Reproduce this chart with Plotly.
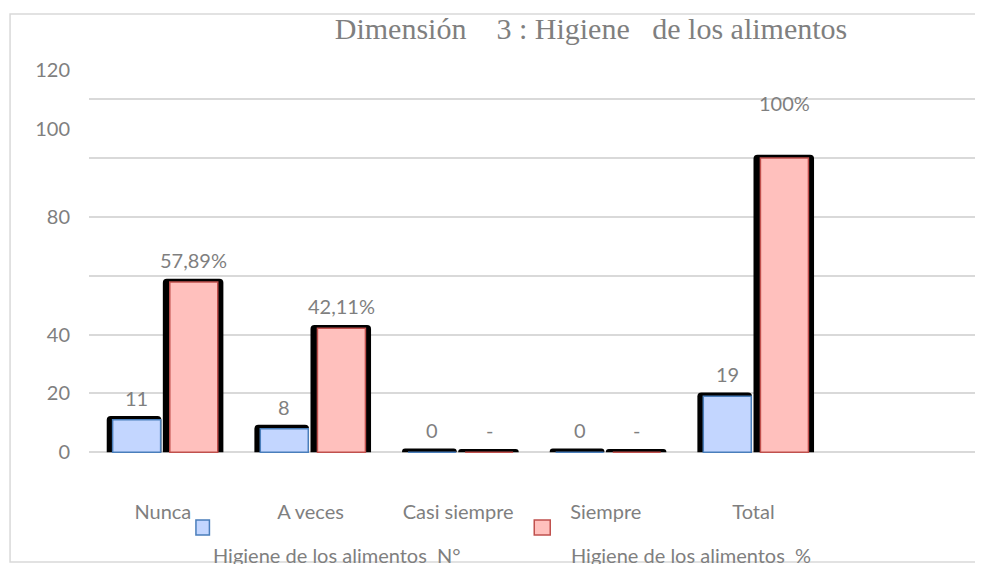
import plotly.graph_objects as go

# data
categorias = ['Nunca', 'A veces', 'Casi siempre', 'Siempre', 'Total']
n_valores = [11, 8, 0, 0, 19]
pct_valores = [57.89, 42.11, 0, 0, 100]
n_etiquetas = ['11', '8', '0', '0', '19']
pct_etiquetas = ['57,89%', '42,11%', '-', '-', '100%']
ytick_textos = ['0', '20', '40', '80', '100', '120']
ytick_pos = [0, 20, 40, 80, 110, 130]  # labels sit off the grid in the original

W, H = 983, 564
PAGE = 8  # default body margin of the html page
ML, MR, MT, MB = 81, 15.5, 50, 108
PW = W - ML - MR
PH = H - MT - MB
GRIS = '#7f7f7f'
FUENTE = 'Lato'


def px_x(p):
    # page pixel -> paper fraction
    return (p - PAGE - ML) / PW


def px_y(p):
    return (H - MB - (p - PAGE)) / PH


xs = list(range(len(categorias)))

# bar geometry in category units (offset from category centre)
b_sh_off, b_sh_w = -0.38, 0.37
b_off, b_w = -0.34, 0.325
r_sh_off, r_sh_w = 0.0, 0.41
r_off, r_w = 0.047, 0.325

fig = go.Figure()
fig.add_trace(go.Bar(x=xs, y=[v + 1.3 for v in n_valores], offset=b_sh_off, width=b_sh_w,
                     marker=dict(color='black', line=dict(width=0), cornerradius=4),
                     showlegend=False, hoverinfo='skip'))
fig.add_trace(go.Bar(x=xs, y=n_valores, offset=b_off, width=b_w,
                     name='Higiene de los alimentos N°',
                     marker=dict(color='#c3d6ff', line=dict(color='#4a7ebb', width=1.5))))
fig.add_trace(go.Bar(x=xs, y=[v + 1.1 for v in pct_valores], offset=r_sh_off, width=r_sh_w,
                     marker=dict(color='black', line=dict(width=0), cornerradius=4),
                     showlegend=False, hoverinfo='skip'))
fig.add_trace(go.Bar(x=xs, y=pct_valores, offset=r_off, width=r_w,
                     name='Higiene de los alimentos %',
                     marker=dict(color='#ffc0bd', line=dict(color='#c0504d', width=1.5))))
# dummy trace so yaxis2 is drawn
fig.add_trace(go.Scatter(x=[None], y=[None], yaxis='y2', showlegend=False, hoverinfo='skip'))

anots = []
for i in xs:
    anots.append(dict(x=i + b_off + b_w / 2, y=n_valores[i], xref='x', yref='y',
                      text=n_etiquetas[i], showarrow=False, xanchor='center',
                      yanchor='middle', yshift=22,
                      font=dict(family=FUENTE, size=20, color=GRIS)))
    shift = 55 if pct_valores[i] >= 100 else 22
    anots.append(dict(x=i + r_off + r_w / 2, y=pct_valores[i], xref='x', yref='y',
                      text=pct_etiquetas[i], showarrow=False, xanchor='center',
                      yanchor='middle', yshift=shift,
                      font=dict(family=FUENTE, size=20, color=GRIS)))

# legend drawn the way the original lays it out
anots.append(dict(x=px_x(337), y=px_y(555), xref='paper', yref='paper',
                  text='Higiene de los alimentos\u00a0 N°', showarrow=False,
                  xanchor='center', yanchor='middle',
                  font=dict(family=FUENTE, size=20, color=GRIS)))
anots.append(dict(x=px_x(691), y=px_y(555), xref='paper', yref='paper',
                  text='Higiene de los alimentos\u00a0 %', showarrow=False,
                  xanchor='center', yanchor='middle',
                  font=dict(family=FUENTE, size=20, color=GRIS)))

shapes = [
    dict(type='rect', xref='paper', yref='paper', x0=px_x(10), x1=px_x(1000),
         y0=px_y(562), y1=px_y(14), line=dict(color='#d9d9d9', width=1.5), layer='above'),
    dict(type='rect', xref='paper', yref='paper', x0=px_x(196), x1=px_x(209.5),
         y0=px_y(535), y1=px_y(520), fillcolor='#c3d6ff', line=dict(color='#4a7ebb', width=1.5)),
    dict(type='rect', xref='paper', yref='paper', x0=px_x(534.5), x1=px_x(550.5),
         y0=px_y(535), y1=px_y(520), fillcolor='#ffc0bd', line=dict(color='#c0504d', width=1.5)),
]

fig.update_layout(
    width=W, height=H,
    margin=dict(l=ML, r=MR, t=MT, b=MB, autoexpand=False),
    paper_bgcolor='white', plot_bgcolor='white',
    barmode='overlay', showlegend=False,
    title=dict(text='Dimensión\u00a0\u00a0\u00a0 3 : Higiene\u00a0\u00a0 de los alimentos',
               x=(591 - PAGE) / W, xref='container', xanchor='center',
               y=1 - (28 - PAGE) / H, yref='container', yanchor='middle',
               font=dict(family='Liberation Serif', size=30, color=GRIS)),
    xaxis=dict(range=[-0.5, 5.5], tickvals=xs, ticktext=categorias, showgrid=False,
               zeroline=False, showline=False, ticks='outside', ticklen=30,
               tickcolor='rgba(0,0,0,0)', automargin=False,
               tickfont=dict(family=FUENTE, size=20, color=GRIS)),
    yaxis=dict(range=[-4, 134], tick0=0, dtick=20, showgrid=True, gridcolor='#d9d9d9',
               gridwidth=1.5, zeroline=False, showticklabels=False, showline=False,
               automargin=False),
    yaxis2=dict(range=[-4, 134], overlaying='y', side='left', tickvals=ytick_pos,
                ticktext=ytick_textos, showgrid=False, zeroline=False, showline=False,
                ticks='outside', ticklen=14, tickcolor='rgba(0,0,0,0)', automargin=False,
                tickfont=dict(family=FUENTE, size=20, color=GRIS)),
    annotations=anots,
    shapes=shapes,
)

fig.write_html('out.html')
